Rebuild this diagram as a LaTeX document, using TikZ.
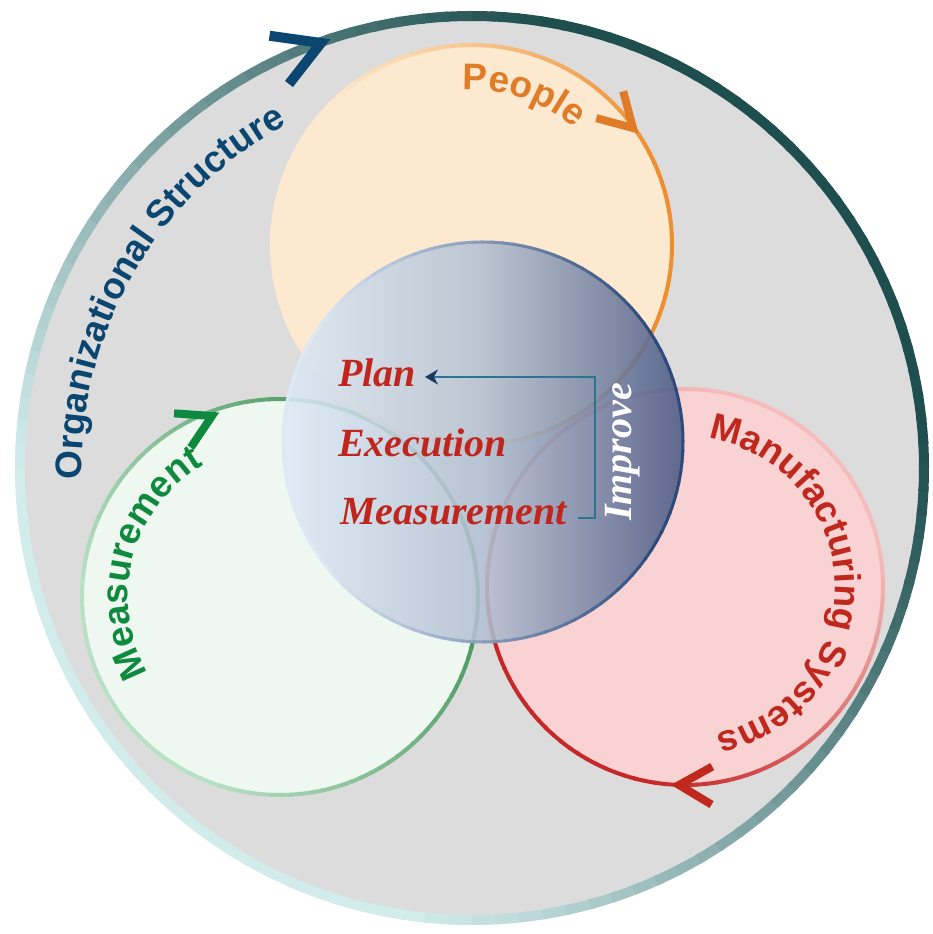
\documentclass[tikz,border=0pt]{standalone}
\usepackage{fontspec}
\setmainfont{Liberation Serif}
\setsansfont{Liberation Sans}
\usetikzlibrary{decorations.text,arrows.meta}
\definecolor{ringdark}{HTML}{1E4E4E}
\definecolor{ringlight}{HTML}{D2ECEC}
\definecolor{bggray}{HTML}{DCDCDC}
\definecolor{orgblue}{HTML}{0B4670}
\definecolor{pplfill}{HTML}{FDE9CF}
\definecolor{pplline}{HTML}{EE8E2E}
\definecolor{pplarrow}{HTML}{E07B28}
\definecolor{msrfill}{HTML}{EEF7F0}
\definecolor{msrline}{HTML}{3A8C50}
\definecolor{msrfaint}{HTML}{B8E0C4}
\definecolor{msrtext}{HTML}{0E8A3E}
\definecolor{mfgfill}{HTML}{F9D3D3}
\definecolor{mfgline}{HTML}{C62828}
\definecolor{mfgfaint}{HTML}{F6BCBC}
\definecolor{mfgtext}{HTML}{C0281E}
\definecolor{cenleft}{HTML}{DDEAF6}
\definecolor{cenmid}{HTML}{B4C0D2}
\definecolor{cenright}{HTML}{4A5A84}
\definecolor{cenline}{HTML}{2E4A7C}
\definecolor{inred}{HTML}{C0261E}
\definecolor{brk}{HTML}{2C7494}
\definecolor{brkhead}{HTML}{163C5E}
\newcommand\ringfnt{\sffamily\bfseries\fontsize{37}{40}\selectfont}
\tikzset{
  pics/chev/.style={code={\draw[line join=miter,miter limit=20] (150:#1) -- (0,0) -- (210:#1);}},
  ringlabel/.style 2 args={decorate,decoration={text along path,text align=center,text color=#1,text={|\ringfnt|#2}}},
  innertext/.style={font=\fontsize{40}{44}\selectfont\bfseries\itshape,text=inred,anchor=base west,inner sep=0pt},
  bracket/.style={draw=brk,line width=2pt,-{Stealth[length=13pt,width=15pt,color=brkhead]}}
}
\begin{document}
\begin{tikzpicture}[x=1pt,y=1pt]
\useasboundingbox (0,0) rectangle (932,934);
\fill[white] (0,0) rectangle (932,934);
\coordinate (O) at (472,466);
\coordinate (P) at (472,689);
\coordinate (M) at (280,337);
\coordinate (F) at (685,347);
\coordinate (C) at (483,492);
% outer circle
\fill[bggray] (O) circle[radius=452];
\foreach \a in {0,3,...,357}{
  \pgfmathtruncatemacro\t{max(0,min(100,50+65*cos(\a-40)))}
  \draw[line width=10,ringdark!\t!ringlight,shift={(O)}] (\a:452) arc[start angle=\a,end angle=\a+3.6,radius=452];
}
% colored circles
\fill[pplfill] (P) circle[radius=200];
\fill[msrfill] (M) circle[radius=198];
\fill[mfgfill] (F) circle[radius=198];
\foreach \a in {0,3,...,357}{
  \pgfmathtruncatemacro\t{max(0,min(100,50+60*cos(\a+10)))}
  \draw[line width=4,pplline!\t!pplfill,shift={(P)}] (\a:200) arc[start angle=\a,end angle=\a+3.6,radius=200];
  \pgfmathtruncatemacro\u{max(0,min(100,45+55*cos(\a-30)))}
  \draw[line width=4,msrline!\u!msrfaint,shift={(M)}] (\a:198) arc[start angle=\a,end angle=\a+3.6,radius=198];
  \pgfmathtruncatemacro\v{max(0,min(100,50+60*cos(\a-225)))}
  \draw[line width=4,mfgline!\v!mfgfaint,shift={(F)}] (\a:198) arc[start angle=\a,end angle=\a+3.6,radius=198];
}
% central circle
\shade[left color=cenleft,right color=cenright,middle color=cenmid,fill opacity=0.88] (C) circle[radius=200];
\foreach \a in {0,3,...,357}{
  \pgfmathtruncatemacro\t{max(0,min(100,50+60*cos(\a)))}
  \draw[line width=3,cenline!\t!cenleft,shift={(C)}] (\a:200) arc[start angle=\a,end angle=\a+3.6,radius=200];
}
% ring labels
\path[ringlabel={orgblue}{Organizational Structure},shift={(O)}] (205:390) arc[start angle=205,end angle=95,radius=390];
\path[ringlabel={pplarrow}{People},shift={(P)}] (130:155) arc[start angle=130,end angle=12,radius=155];
\path[ringlabel={msrtext}{Measurement},shift={(M)}] (250:152) arc[start angle=250,end angle=80,radius=152];
\path[ringlabel={mfgtext}{Manufacturing Systems},shift={(F)}] (100:150) arc[start angle=100,end angle=-97,radius=150];
% chevrons
\pic[rotate=22,color=orgblue,line width=10] at (321,891) {chev=52};
\pic[rotate=-45,color=pplarrow,line width=8] at (633,806) {chev=38};
\pic[rotate=26,color=msrtext,line width=8] at (212,518) {chev=38};
\pic[rotate=179,color=mfgtext,line width=8] at (679,149) {chev=38};
% inner texts
\node[innertext] (p1) at (338,547) {Plan};
\node[innertext] (p2) at (338,477) {Execution};
\node[innertext] (p3) at (340,409) {Measurement};
\node[font=\fontsize{40}{44}\selectfont\bfseries\itshape,text=white,rotate=90,inner sep=0pt] (imp) at (623,482) {Improve};
\coordinate (bkstart) at (578,416);
\coordinate (bkcorner) at (595,557);
\coordinate (bktip) at (425,557);
\draw[bracket] (bkstart) -| (bkcorner) -- (bktip);
\end{tikzpicture}
\end{document}
